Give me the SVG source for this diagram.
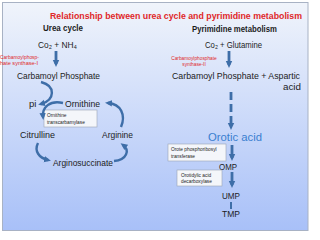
<svg xmlns="http://www.w3.org/2000/svg" width="320" height="240" viewBox="0 0 320 240">
<defs>
<linearGradient id="bg" x1="0" y1="0" x2="0" y2="1">
<stop offset="0" stop-color="#f0f4fb"/>
<stop offset="1" stop-color="#a8c0f8"/>
</linearGradient>
<marker id="ah" markerUnits="userSpaceOnUse" markerWidth="8" markerHeight="8" refX="4" refY="4" orient="auto">
<path d="M0,0.8 L7,4 L0,7.2 Z" fill="#3e6ea8"/>
</marker>
</defs>
<style>
.t{font-family:"Liberation Sans",Arial,sans-serif;fill:#1c1c1c}
.h{font-weight:bold}
.red{fill:#e0282a}
.sm{font-size:4.8px}
.box{fill:#f4f6fa;stroke:#9aa4b4;stroke-width:0.6}
.ar{fill:none;stroke:#3e6ea8;stroke-width:2.8;marker-end:url(#ah)}
.cv{fill:none;stroke:#3e6ea8;stroke-width:2.4;marker-end:url(#ah)}
</style>
<rect x="0" y="0" width="320" height="240" fill="#ffffff"/>
<rect x="2.5" y="2.5" width="305.5" height="228" fill="url(#bg)" stroke="#a8b2c4" stroke-width="1"/>
<g id="title">
<text class="t h red" x="50" y="19" font-size="8.8" textLength="252" lengthAdjust="spacingAndGlyphs">Relationship between urea cycle and pyrimidine metabolism</text>
<text class="t h" x="43" y="31" font-size="9" textLength="40" lengthAdjust="spacingAndGlyphs">Urea cycle</text>
<text class="t h" x="192" y="32" font-size="9" textLength="85" lengthAdjust="spacingAndGlyphs">Pyrimidine metabolism</text>
</g>
<g id="co2nh4"><text class="t" x="38" y="48" font-size="8.5" textLength="39" lengthAdjust="spacingAndGlyphs">Co₂ + NH₄</text></g>
<g id="co2glu"><text class="t" x="205" y="48" font-size="8.5" textLength="57" lengthAdjust="spacingAndGlyphs">Co₂ + Glutamine</text></g>
<g id="cps1"><text class="t red sm" x="0" y="59" textLength="39" lengthAdjust="spacingAndGlyphs">Carbamoylphosp-</text><text class="t red sm" x="0" y="65" textLength="38" lengthAdjust="spacingAndGlyphs">hate synthase-I</text></g>
<g id="cps2"><text class="t red sm" x="194" y="60" text-anchor="middle">Carbamoylphosphate</text><text class="t red sm" x="194" y="66" text-anchor="middle">synthase-II</text></g>
<g id="cp"><text class="t" x="17" y="79" font-size="9.5" textLength="83" lengthAdjust="spacingAndGlyphs">Carbamoyl Phosphate</text></g>
<g id="cpasp"><text class="t" x="172" y="79" font-size="9.5" textLength="128" lengthAdjust="spacingAndGlyphs">Carbamoyl Phosphate + Aspartic</text><text class="t" x="283" y="90" font-size="9.5" textLength="18" lengthAdjust="spacingAndGlyphs">acid</text></g>
<g id="pi"><text class="t" x="29" y="107" font-size="9.5">pi</text></g>
<g id="ornithine"><text class="t" x="65" y="107" font-size="9.5" textLength="35" lengthAdjust="spacingAndGlyphs">Ornithine</text></g>
<g id="otc"><rect class="box" x="44" y="110" width="53" height="17"/><text class="t sm" x="47" y="117">Ornithine</text><text class="t sm" x="47" y="124">transcarbamylase</text></g>
<g id="citrulline"><text class="t" x="20" y="138" font-size="9.5" textLength="35" lengthAdjust="spacingAndGlyphs">Citrulline</text></g>
<g id="arginine"><text class="t" x="102" y="138" font-size="9.5" textLength="31" lengthAdjust="spacingAndGlyphs">Arginine</text></g>
<g id="arginosuccinate"><text class="t" x="53" y="166" font-size="9.5" textLength="60" lengthAdjust="spacingAndGlyphs">Arginosuccinate</text></g>
<g id="orotic"><text class="t" x="208" y="141" font-size="11" style="fill:#3a7fd0" textLength="54" lengthAdjust="spacingAndGlyphs">Orotic acid</text></g>
<g id="oprt"><rect class="box" x="168" y="144" width="58" height="17"/><text class="t sm" x="171" y="151">Orote phosphoribosyl</text><text class="t sm" x="171" y="158">transferase</text></g>
<g id="omp"><text class="t" x="219" y="170" font-size="9.5" textLength="18" lengthAdjust="spacingAndGlyphs">OMP</text></g>
<g id="odc"><rect class="box" x="177" y="170" width="45" height="16"/><text class="t sm" x="181" y="177">Orotidylic acid</text><text class="t sm" x="181" y="183">decarboxylase</text></g>
<g id="ump"><text class="t" x="222" y="199" font-size="9.5" textLength="18" lengthAdjust="spacingAndGlyphs">UMP</text></g>
<g id="tmp"><text class="t" x="222" y="217" font-size="9.5" textLength="18" lengthAdjust="spacingAndGlyphs">TMP</text></g>
<g id="connectors">
<path class="ar" d="M56,51 V64"/>
<path class="ar" d="M229,51 V65"/>
<path class="ar" d="M231,92 V127" stroke-dasharray="8 4"/>
<path class="ar" d="M232,145 V158"/>
<path class="ar" d="M232,172 V185"/>
<path d="M231,202 V209" stroke="#3e6ea8" stroke-width="2" fill="none"/>
<path class="cv" d="M41,82 C56,86 55,100 41,104"/>
<path class="cv" d="M63,103 C50,100 42,107 43,117"/>
<path class="cv" d="M121,127 C126,115 121,104 108,103"/>
<path class="cv" d="M38,143 C34,151 39,158 48,160"/>
<path class="cv" d="M114,161 C127,160 130,150 123,145"/>
</g>
</svg>
